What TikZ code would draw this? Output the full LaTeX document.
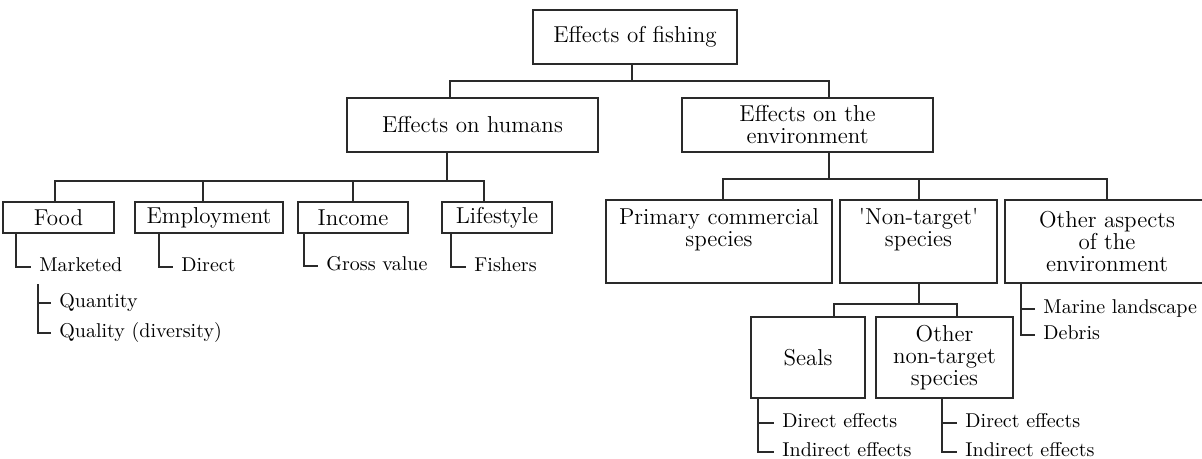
\documentclass[tikz,border=0pt]{standalone}
\usetikzlibrary{positioning}
\definecolor{line-grey}{HTML}{2A2A2A}
\newcommand{\boxfont}{\fontsize{11.5pt}{11pt}\selectfont}
\newcommand{\leaffont}{\fontsize{10pt}{11pt}\selectfont}
\tikzset{
  box/.style 2 args={draw=line-grey, line width=1.1pt, minimum width=#1, minimum height=#2,
    inner sep=2pt, align=center, font=\boxfont},
  leaf/.style={anchor=west, inner xsep=4.5pt, inner ysep=0pt, text height=4.3pt, text depth=0pt,
    font=\leaffont},
  tree-path/.style={draw=line-grey, line width=1pt, line cap=rect},
}
\begin{document}
\begin{tikzpicture}[x=0.5pt, y=-0.5pt]
\useasboundingbox (0,0) rectangle (1202,459);

% boxes
\node[box={102pt}{27pt}] (root) at (635,37) {Effects of fishing};
\node[box={125.5pt}{27pt}] (hum) at (472.5,125) {Effects on humans};
\node[box={125.5pt}{27pt}] (env) at (807.5,125) {Effects on the\\environment};

\node[box={55.5pt}{15.5pt}] (food) at (58.5,217.5) {Food};
\node[box={74pt}{15.5pt}] (emp) at (209,217.5) {Employment};
\node[box={55pt}{15.5pt}] (inc) at (353,217.5) {Income};
\node[box={55pt}{15.5pt}] (life) at (497,217.5) {Lifestyle};

\node[box={113pt}{41.5pt}] (prim) at (719,241.5) {Primary commercial\\species\\\strut};
\node[box={78.5pt}{41.5pt}] (nt) at (918.5,241.5) {\textquotesingle Non-target\textquotesingle\\species\\\strut};
\node[box={102pt}{41.5pt}] (oth) at (1107,241.5) {Other aspects\\of the\\environment};

\node[box={57pt}{40.5pt}] (seals) at (808,357.5) {Seals};
\node[box={68.5pt}{40.5pt}] (ont) at (944.5,357.5) {Other\\non-target\\species};

% branch points
\coordinate (rb-root) at (632,81);
\coordinate (rb-hum) at (450,81);
\coordinate (rb-env) at (829,81);
\coordinate (hb-hum) at (447,181);
\coordinate (hb-food) at (55,181);
\coordinate (hb-emp) at (203,181);
\coordinate (hb-inc) at (353,181);
\coordinate (hb-life) at (484,181);
\coordinate (eb-env) at (829,179);
\coordinate (eb-prim) at (723,179);
\coordinate (eb-nt) at (919,179);
\coordinate (eb-oth) at (1107,179);
\coordinate (nb-nt) at (919,304);
\coordinate (nb-seals) at (834,304);
\coordinate (nb-ont) at (957,304);

% tree
\draw[tree-path] (root.south -| rb-root) -- (rb-root);
\draw[tree-path] (rb-hum) -- (rb-env);
\foreach \n in {hum,env} \draw[tree-path] (rb-\n) -- (\n.north -| rb-\n);

\draw[tree-path] (hum.south -| hb-hum) -- (hb-hum);
\draw[tree-path] (hb-food) -- (hb-life);
\foreach \n in {food,emp,inc,life} \draw[tree-path] (hb-\n) -- (\n.north -| hb-\n);

\draw[tree-path] (env.south -| eb-env) -- (eb-env);
\draw[tree-path] (eb-prim) -- (eb-oth);
\foreach \n in {prim,nt,oth} \draw[tree-path] (eb-\n) -- (\n.north -| eb-\n);

\draw[tree-path] (nt.south -| nb-nt) -- (nb-nt);
\draw[tree-path] (nb-seals) -- (nb-ont);
\foreach \n in {seals,ont} \draw[tree-path] (nb-\n) -- (\n.north -| nb-\n);

% lists under the boxes
\node[leaf] (mkt) at (30,267) {Marketed};
\node[leaf] (quant) at (50,303) {Quantity};
\node[leaf] (qual) at (50,333) {Quality (diversity)};
\node[leaf] (dir) at (172,267) {Direct};
\node[leaf] (gross) at (317,266) {Gross value};
\node[leaf] (fish) at (465,267) {Fishers};
\node[leaf] (marine) at (1034,309) {Marine landscape};
\node[leaf] (debris) at (1034,335) {Debris};
\node[leaf] (s-dir) at (773,423) {Direct effects};
\node[leaf] (s-ind) at (773,452) {Indirect effects};
\node[leaf] (o-dir) at (956,423) {Direct effects};
\node[leaf] (o-ind) at (956,452) {Indirect effects};

\draw[tree-path] ([xshift=7pt]food.south west) |- (mkt.west);
\draw[tree-path] ([shift={(4pt,-6.5pt)}]mkt.south west) |- (qual.west);
\draw[tree-path] (quant.west) -- ++(-6pt,0);
\draw[tree-path] ([xshift=12.5pt]emp.south west) |- (dir.west);
\draw[tree-path] ([xshift=3.5pt]inc.south west) |- (gross.west);
\draw[tree-path] ([xshift=5pt]life.south west) |- (fish.west);
\draw[tree-path] ([xshift=8.5pt]oth.south west) |- (debris.west);
\draw[tree-path] (marine.west) -- ++(-6pt,0);
\draw[tree-path] ([xshift=4pt]seals.south west) |- (s-ind.west);
\draw[tree-path] (s-dir.west) -- ++(-7pt,0);
\draw[tree-path] ([xshift=33.5pt]ont.south west) |- (o-ind.west);
\draw[tree-path] (o-dir.west) -- ++(-6.5pt,0);
\end{tikzpicture}
\end{document}
